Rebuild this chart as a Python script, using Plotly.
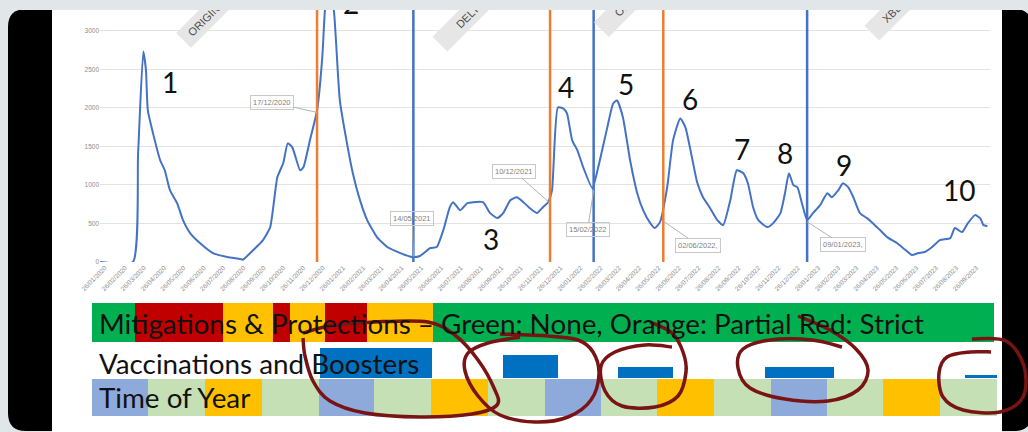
import plotly.graph_objects as go
import pandas as pd

W, H = 1028, 432

# ---------------- data ----------------
start_date = "2020-01-01"
day_offsets = [18, 68, 76, 84, 88, 91, 99, 110, 117, 125, 136, 145, 156, 171, 191, 213, 233, 237,
               253, 268, 279, 290, 299, 306, 313, 325, 330, 340, 351, 359, 363, 369, 377, 386,
               397, 406, 417, 428, 443, 459, 479, 497, 509, 525, 535, 545, 555, 560, 571, 582,
               591, 606, 617, 628, 637, 648, 658, 668, 678, 689, 698, 706, 712, 721, 729, 735,
               743, 751, 760, 774, 783, 797, 806, 812, 821, 832, 843, 852, 863, 870, 878, 889,
               898, 909, 917, 927, 935, 944, 955, 966, 975, 986, 996, 1006, 1013, 1021, 1029,
               1043, 1052, 1063, 1070, 1076, 1083, 1089, 1096, 1104, 1113, 1124, 1135, 1142,
               1152, 1159, 1167, 1175, 1185, 1196, 1205, 1216, 1227, 1242, 1255, 1265, 1275,
               1285, 1296, 1308, 1324, 1331, 1342, 1351, 1362, 1370, 1375, 1381]
admissions = [0, 0, 1400, 2730, 2500, 1965, 1668, 1319, 1190, 931, 763, 543, 375, 246, 116, 65, 39, 30,
              155, 284, 452, 1099, 1280, 1539, 1487, 1190, 1228, 1577, 1965, 2650, 3250, 3650, 3250, 2095,
              1539, 1151, 802, 543, 323, 194, 116, 65, 78, 181, 194, 414, 711, 776, 672, 763,
              776, 776, 634, 569, 634, 802, 840, 776, 698, 634, 711, 776, 931, 2004, 1991, 1927,
              1577, 1448, 1228, 957, 1228, 1746, 2056, 2095, 1875, 1319, 892, 672, 504, 440, 517, 970,
              1577, 1862, 1746, 1358, 1034, 840, 698, 543, 478, 802, 1190, 1151, 1021, 711, 543,
              453, 504, 634, 892, 1151, 996, 970, 763, 543, 634, 737, 892, 840,
              931, 1021, 970, 840, 634, 569, 504, 414, 323, 246, 155, 91, 116,
              129, 194, 284, 310, 440, 388, 504, 608, 569, 478, 465]

event_dates = ["2020-12-17", "2021-05-14", "2021-12-10", "2022-02-15", "2022-06-02", "2023-01-09"]
event_labels = ["17/12/2020", "14/05/2021", "10/12/2021", "15/02/2022", "02/06/2022,", "09/01/2023,"]
event_group = ["A", "B", "A", "B", "A", "B"]
event_values = [1940, 70, 763, 930, 530, 520]

variant_labels = ["ORIGINAL", "DELTA", "OMICRON", "XBB"]
wave_labels = ["1", "2", "3", "4", "5", "6", "7", "8", "9", "10"]

mitigation_starts = ["2020-01-01", "2020-03-10", "2020-07-30", "2020-10-19", "2020-11-16",
                     "2021-01-11", "2021-03-20", "2021-07-04"]
mitigation_ends = ["2020-03-10", "2020-07-30", "2020-10-19", "2020-11-16", "2021-01-11",
                   "2021-03-20", "2021-07-04", "2023-12-27"]
mitigation_levels = ["None", "Strict", "Partial", "Strict", "Partial", "Strict", "Partial", "None"]

vaccination_starts = ["2021-01-03", "2021-10-25", "2022-04-29", "2022-12-22", "2023-11-10"]
vaccination_ends = ["2021-07-03", "2022-01-22", "2022-07-27", "2023-04-13", "2024-01-01"]
vaccination_levels = [1.0, 0.77, 0.37, 0.37, 0.1]

season_names = ["Winter", "Spring", "Summer", "Autumn"] * 4

# ---------------- styles ----------------
LINE_BLUE = "#4472c4"
EVENT_COLORS = {"A": "#ed7d31", "B": "#4472c4"}
MIT_COLORS = {"None": "#00b050", "Partial": "#ffc000", "Strict": "#c00000"}
VAC_COLOR = "#0070c0"
SEASON_COLORS = {"Winter": "#8eaadb", "Spring": "#c5e0b4", "Summer": "#ffc000", "Autumn": "#c5e0b4"}
MAROON = "#7a1414"
STRIP = "#e1e7e9"
TXT_FONT = "Lato, 'Open Sans', sans-serif"


def px(x):
    return x / W


def py(y):
    return 1 - y / H


dates = pd.to_datetime(start_date) + pd.to_timedelta(day_offsets, unit="D")

fig = go.Figure()

fig.add_trace(go.Scatter(
    x=dates, y=admissions, mode="lines",
    line=dict(color=LINE_BLUE, width=2, shape="spline", smoothing=0.5),
    showlegend=False, hoverinfo="skip", xaxis="x", yaxis="y"))

for d, g in zip(event_dates, event_group):
    fig.add_trace(go.Scatter(
        x=[d, d], y=[0, 4000], mode="lines",
        line=dict(color=EVENT_COLORS[g], width=2.5),
        showlegend=False, hoverinfo="skip", xaxis="x", yaxis="y"))


def add_bars(starts, ends, heights, colors, yaxis):
    s = pd.to_datetime(starts)
    e = pd.to_datetime(ends)
    widths = [(b - a).total_seconds() * 1000 for a, b in zip(s, e)]
    fig.add_trace(go.Bar(
        x=list(s), y=heights, width=widths, offset=0,
        marker=dict(color=colors, line=dict(width=0)),
        showlegend=False, hoverinfo="skip", xaxis="x2", yaxis=yaxis))


add_bars(mitigation_starts, mitigation_ends, [1] * len(mitigation_levels),
         [MIT_COLORS[m] for m in mitigation_levels], "y2")
add_bars(vaccination_starts, vaccination_ends, vaccination_levels,
         [VAC_COLOR] * len(vaccination_levels), "y3")
q_starts = pd.date_range("2020-01-01", periods=len(season_names), freq="QS")
q_ends = list(q_starts[1:]) + [pd.Timestamp("2024-01-01")]
add_bars(list(q_starts), q_ends, [1] * len(season_names),
         [SEASON_COLORS[s] for s in season_names], "y4")

tick_dates = pd.date_range("2020-01-01", "2023-09-01", freq="MS") + pd.Timedelta(days=25)
tick_text = [d.strftime("%d/%m/%Y") for d in tick_dates]


def rrect(x0, y0, x1, y1, r):
    pts = [
        f"M{px(x0 + r):.5f},{py(y0):.5f}",
        f"L{px(x1 - r):.5f},{py(y0):.5f}",
        f"Q{px(x1):.5f},{py(y0):.5f} {px(x1):.5f},{py(y0 + r):.5f}",
        f"L{px(x1):.5f},{py(y1 - r):.5f}",
        f"Q{px(x1):.5f},{py(y1):.5f} {px(x1 - r):.5f},{py(y1):.5f}",
        f"L{px(x0 + r):.5f},{py(y1):.5f}",
        f"Q{px(x0):.5f},{py(y1):.5f} {px(x0):.5f},{py(y1 - r):.5f}",
        f"L{px(x0):.5f},{py(y0 + r):.5f}",
        f"Q{px(x0):.5f},{py(y0):.5f} {px(x0 + r):.5f},{py(y0):.5f} Z",
    ]
    return " ".join(pts)


def smooth_path(pts):
    P = [(px(x), py(y)) for x, y in pts]
    d = f"M{P[0][0]:.5f},{P[0][1]:.5f}"
    n = len(P)
    for i in range(n - 1):
        p0 = P[i - 1] if i > 0 else P[i]
        p1 = P[i]
        p2 = P[i + 1]
        p3 = P[i + 2] if i + 2 < n else P[i + 1]
        c1 = (p1[0] + (p2[0] - p0[0]) / 6, p1[1] + (p2[1] - p0[1]) / 6)
        c2 = (p2[0] - (p3[0] - p1[0]) / 6, p2[1] - (p3[1] - p1[1]) / 6)
        d += f" C{c1[0]:.5f},{c1[1]:.5f} {c2[0]:.5f},{c2[1]:.5f} {p2[0]:.5f},{p2[1]:.5f}"
    return d


shapes = [
    dict(type="path", path=rrect(8, 9, 1032, 431, 18), xref="paper", yref="paper",
         fillcolor="#000000", line=dict(width=0), layer="below"),
    dict(type="rect", x0=px(52), x1=px(1002), y0=py(432), y1=py(9), xref="paper", yref="paper",
         fillcolor="#ffffff", line=dict(width=0), layer="below"),
]

loops = [
    [(303, 333), (330, 326), (375, 322), (428, 322), (456, 336), (478, 360), (494, 388), (497, 405),
     (472, 414), (420, 417), (365, 413), (330, 401), (313, 381), (305, 356), (303, 338)],
    [(500, 334), (548, 336), (578, 340), (593, 352), (599, 374), (591, 400), (568, 417), (535, 422),
     (500, 415), (478, 396), (465, 371), (468, 353), (488, 343), (520, 337)],
    [(650, 322), (672, 333), (683, 352), (686, 372), (678, 396), (655, 407), (622, 406), (605, 391),
     (601, 366), (615, 352), (645, 345), (672, 347)],
    [(798, 316), (830, 330), (856, 349), (868, 370), (858, 390), (828, 401), (785, 399), (750, 388),
     (738, 368), (743, 349), (770, 340), (812, 340), (842, 347)],
    [(972, 339), (1006, 341), (1024, 366), (1023, 397), (1000, 412), (963, 410), (943, 397),
     (939, 373), (947, 357), (970, 352), (991, 352)],
]
for lp in loops:
    shapes.append(dict(type="path", path=smooth_path(lp), xref="paper", yref="paper",
                       line=dict(color=MAROON, width=3.5), layer="above"))

ann = []
row_text = [
    ("Mitigations & Protections \u2013 Green: None, Orange: Partial Red: Strict", 323),
    ("Vaccinations and Boosters", 363),
    ("Time of Year", 397),
]
for t, yy in row_text:
    ann.append(dict(text=t, x=px(97), y=py(yy), xref="paper", yref="paper", xanchor="left",
                    yanchor="middle", showarrow=False, font=dict(family=TXT_FONT, size=27.8, color="#111111")))

wave_pos = [(170, 82), (351, 3), (491, 239), (566, 87), (626, 84), (690, 99), (742, 149),
            (785, 153), (844, 165), (959, 190)]
for lab, (x, y) in zip(wave_labels, wave_pos):
    ann.append(dict(text=lab, x=px(x), y=py(y), xref="paper", yref="paper", xanchor="center",
                    yanchor="middle", showarrow=False, font=dict(family=TXT_FONT, size=28, color="#111111")))

callout_offsets = [(-45, -10), (-1, -38), (-36, -32), (-6, 39), (35, 24), (36, 23)]
for d, lab, v, (ax, ay) in zip(event_dates, event_labels, event_values, callout_offsets):
    ann.append(dict(text=lab, x=d, y=v, xref="x", yref="y", ax=ax, ay=ay, showarrow=True,
                    arrowhead=0, arrowwidth=1, arrowcolor="#b3b3b3", standoff=0,
                    font=dict(family="Liberation Sans, Arial", size=7.5, color="#7f7f7f"),
                    bordercolor="#c8c8c8", borderwidth=1, borderpad=2, bgcolor="rgba(255,255,255,0)"))

variant_geo = [((208, 16), 61), ((470, 14), 76), ((635, -4), 87), ((892, 13), 48)]
for lab, ((x, y), w) in zip(variant_labels, variant_geo):
    ann.append(dict(text=lab, x=px(x), y=py(y), xref="paper", yref="paper", xanchor="center",
                    yanchor="middle", textangle=-45, showarrow=False, width=w, borderpad=4,
                    bgcolor="#e6e6e6", font=dict(family="Liberation Sans, Arial", size=11, color="#4d4d4d")))

# top strip of the screenshot frame, drawn last so that it covers the cut-off tops
ann.append(dict(text="\u00a0", x=0, y=1, xref="paper", yref="paper", xanchor="left", yanchor="top",
                showarrow=False, width=W, height=8, borderpad=0, borderwidth=1, bordercolor=STRIP,
                bgcolor=STRIP, font=dict(size=6, color=STRIP)))

fig.update_layout(
    width=W, height=H, margin=dict(l=0, r=0, t=0, b=0, pad=0, autoexpand=False),
    paper_bgcolor=STRIP, plot_bgcolor="rgba(0,0,0,0)",
    showlegend=False, barmode="overlay", bargap=0,
    xaxis=dict(domain=[px(100), px(990)], range=["2020-01-18 12:00", "2023-10-17"], type="date",
               tickvals=list(tick_dates), ticktext=tick_text, tickangle=-45, automargin=False,
               tickfont=dict(family="Liberation Sans, Arial", size=6.5, color="#8c8c8c"),
               showgrid=False, zeroline=False, showline=False, ticks="", anchor="y"),
    yaxis=dict(domain=[py(262), py(9)], range=[0, 3281], tickvals=[0, 500, 1000, 1500, 2000, 2500, 3000],
               tickfont=dict(family="Liberation Sans, Arial", size=6.5, color="#8c8c8c"), automargin=False,
               gridcolor="#e3e3e3", gridwidth=1, zeroline=False, showline=False, ticks="", anchor="x"),
    xaxis2=dict(domain=[px(92), px(997)], range=["2020-01-01", "2024-01-01"], type="date",
                visible=False, anchor="y4", automargin=False),
    yaxis2=dict(domain=[py(342), py(303)], range=[0, 1], visible=False, anchor="x2", automargin=False),
    yaxis3=dict(domain=[py(378), py(348)], range=[0, 1], visible=False, anchor="x2", automargin=False),
    yaxis4=dict(domain=[py(416), py(379)], range=[0, 1], visible=False, anchor="x2", automargin=False),
    shapes=shapes, annotations=ann,
)

# thin frame line under the strip: added via a final post-render tweak-free shape
fig.add_shape(type="line", x0=0, x1=1, y0=py(8.5), y1=py(8.5), xref="paper", yref="paper",
              line=dict(color="#c6d3d7", width=1.5), layer="above")

fig.write_html("out.html", config={"displayModeBar": False, "staticPlot": True},
               post_script="document.body.style.margin='0';document.body.style.overflow='hidden';")
